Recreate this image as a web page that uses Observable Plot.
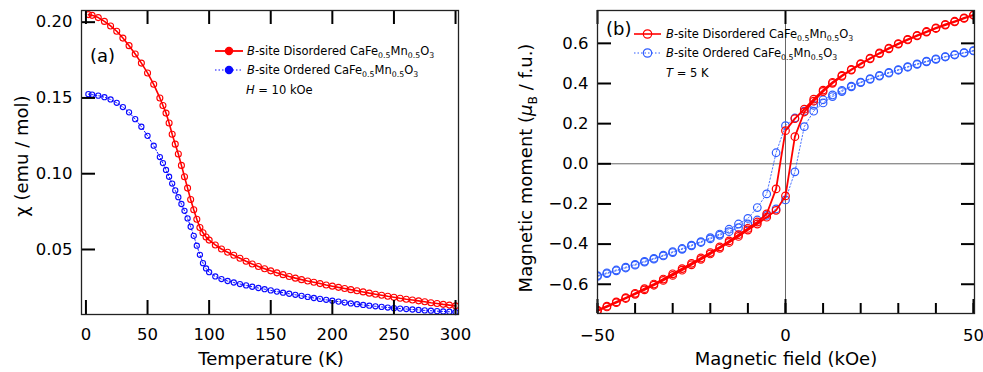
<!DOCTYPE html>
<html><head><meta charset="utf-8">
<script src="https://cdn.jsdelivr.net/npm/d3@7"></script>
<script src="https://cdn.jsdelivr.net/npm/@observablehq/plot@0.6"></script>
<style>
html,body{margin:0;padding:0;background:#fff;}
#wrap{display:flex;width:983px;height:372px;overflow:hidden;}
</style></head><body><div id="wrap"></div>
<script>
// ---------- Panel (a): susceptibility vs temperature ----------
const temperatureK = [2,5,10,15,20,25,30,35,40,45,50,55,60,62.5,65,67.5,70,72.5,75,77.5,80,82.5,85,87.5,90,92.5,95,97.5,100,
  105,110,115,120,125,130,135,140,145,150,155,160,165,170,175,180,185,190,195,200,205,210,215,220,225,230,235,240,245,250,255,260,265,270,275,280,285,290,295,300];
const chiDisordered = [0.2050,0.2045,0.2030,0.2005,0.1975,0.1940,0.1895,0.1845,0.1790,0.1730,0.1665,0.1590,0.1500,0.1450,0.1400,0.1335,0.1260,0.1195,0.1130,0.1055,0.0980,0.0905,0.0830,0.0762,0.0700,0.0645,0.0610,0.0582,0.0562,
  0.0530,0.0503,0.0482,0.0462,0.0442,0.0422,0.0404,0.0388,0.0373,0.0359,0.0346,0.0334,0.0322,0.0311,0.0301,0.0292,0.0284,0.0275,0.0266,0.0258,0.0250,0.0243,0.0235,0.0228,0.0220,0.0212,0.0205,0.0198,0.0191,0.0185,0.0178,0.0172,0.0167,0.0161,0.0155,0.0149,0.0144,0.0138,0.0133,0.0128];
const chiOrdered = [0.1525,0.1522,0.1515,0.1505,0.1490,0.1468,0.1440,0.1405,0.1360,0.1310,0.1250,0.1185,0.1110,0.1070,0.1025,0.0980,0.0935,0.0890,0.0845,0.0800,0.0755,0.0705,0.0650,0.0590,0.0525,0.0465,0.0410,0.0375,0.0350,
  0.0322,0.0305,0.0292,0.0282,0.0272,0.0263,0.0254,0.0246,0.0238,0.0230,0.0222,0.0215,0.0208,0.0201,0.0194,0.0187,0.0180,0.0174,0.0168,0.0162,0.0156,0.0150,0.0144,0.0139,0.0134,0.0129,0.0125,0.0121,0.0117,0.0113,0.0110,0.0107,0.0104,0.0101,0.0098,0.0096,0.0093,0.0091,0.0089,0.0087];
const tempTicks = [0,50,100,150,200,250,300];
const chiTicks = [0.05,0.10,0.15,0.20];

// ---------- Panel (b): magnetization loops at 5 K ----------
const fieldDown = [50,47.5,45,42.5,40,37.5,35,32.5,30,27.5,25,22.5,20,17.5,15,12.5,10,7.5,5,2.5,0,-2.5,-5,-7.5,-10,-12.5,-15,-17.5,-20,-22.5,-25,-27.5,-30,-32.5,-35,-37.5,-40,-42.5,-45,-47.5,-50];
const fieldUp = [-50,-47.5,-45,-42.5,-40,-37.5,-35,-32.5,-30,-27.5,-25,-22.5,-20,-17.5,-15,-12.5,-10,-7.5,-5,-2.5,0,2.5,5,7.5,10,12.5,15,17.5,20,22.5,25,27.5,30,32.5,35,37.5,40,42.5,45,47.5,50];
const momentDisorderedDown = [0.742,0.727,0.710,0.694,0.677,0.659,0.640,0.620,0.599,0.576,0.552,0.526,0.499,0.470,0.440,0.406,0.367,0.322,0.272,0.225,0.165,-0.125,-0.250,-0.290,-0.322,-0.353,-0.384,-0.414,-0.442,-0.469,-0.496,-0.522,-0.548,-0.574,-0.599,-0.622,-0.645,-0.667,-0.688,-0.709,-0.729];
const momentDisorderedUp = [-0.733,-0.713,-0.692,-0.671,-0.650,-0.628,-0.605,-0.581,-0.556,-0.530,-0.503,-0.476,-0.449,-0.421,-0.392,-0.362,-0.330,-0.300,-0.266,-0.232,-0.160,0.135,0.258,0.312,0.360,0.401,0.436,0.467,0.496,0.523,0.549,0.573,0.596,0.617,0.637,0.656,0.674,0.691,0.707,0.724,0.740];
const momentOrderedDown = [0.564,0.554,0.544,0.534,0.523,0.511,0.498,0.484,0.469,0.455,0.440,0.424,0.407,0.387,0.366,0.343,0.319,0.291,0.262,0.228,0.190,0.055,-0.150,-0.218,-0.272,-0.300,-0.326,-0.350,-0.368,-0.388,-0.405,-0.422,-0.438,-0.455,-0.471,-0.486,-0.501,-0.515,-0.529,-0.543,-0.557];
const momentOrderedUp = [-0.561,-0.547,-0.533,-0.519,-0.505,-0.490,-0.475,-0.459,-0.442,-0.426,-0.409,-0.392,-0.374,-0.356,-0.338,-0.318,-0.300,-0.280,-0.257,-0.225,-0.180,-0.040,0.185,0.262,0.303,0.335,0.360,0.383,0.404,0.421,0.437,0.452,0.466,0.481,0.495,0.508,0.520,0.532,0.542,0.552,0.562];
const fieldTicks = [-50,-40,-30,-20,-10,0,10,20,30,40,50];
const fieldLabelTicks = [-50,0,50];
const momentTicks = [-0.6,-0.4,-0.2,0,0.2,0.4,0.6];

const RED = "#ff0000", BLUE_A = "#0a0aff", BLUE_B = "#2f5dff";
const FONT = "DejaVu Sans";
const fmtSigned = d => (d < 0 ? "\u2212" : "") + Math.abs(d);

const disA = temperatureK.map((T, i) => ({T, chi: chiDisordered[i]}));
const ordA = temperatureK.map((T, i) => ({T, chi: chiOrdered[i]}));
const disB = [...fieldDown.map((H, i) => ({H, M: momentDisorderedDown[i]})), ...fieldUp.map((H, i) => ({H, M: momentDisorderedUp[i]}))];
const ordB = [...fieldDown.map((H, i) => ({H, M: momentOrderedDown[i]})), ...fieldUp.map((H, i) => ({H, M: momentOrderedUp[i]}))];

const A = {w: 490, h: 372, ml: 81, mr: 32, mt: 10, mb: 58, xd: [-3.6, 302.4], yd: [0.0071, 0.2077]};
const B = {w: 493, h: 372, ml: 107, mr: 9, mt: 10, mb: 59, xd: [-50, 50.27], yd: [-0.7457, 0.7636]};

// inward tick marks as Plot rule marks; tick length in px converted to data units
function tickMarks(p, axis, values, side, lenPx) {
  const fw = p.w - p.ml - p.mr, fh = p.h - p.mt - p.mb;
  const style = {stroke: "#000", strokeWidth: 2};
  if (axis === "x") {
    const dy = lenPx * (p.yd[1] - p.yd[0]) / fh;
    const y0 = side === "bottom" ? p.yd[0] : p.yd[1];
    const y1 = side === "bottom" ? y0 + dy : y0 - dy;
    return Plot.ruleX(values.map(v => ({v, a: y0, b: y1})), {x: "v", y1: "a", y2: "b", ...style});
  } else {
    const dx = lenPx * (p.xd[1] - p.xd[0]) / fw;
    const x0 = side === "left" ? p.xd[0] : p.xd[1];
    const x1 = side === "left" ? x0 + dx : x0 - dx;
    return Plot.ruleY(values.map(v => ({v, a: x0, b: x1})), {y: "v", x1: "a", x2: "b", ...style});
  }
}

const plotA = Plot.plot({
  width: A.w, height: A.h, marginLeft: A.ml, marginRight: A.mr, marginTop: A.mt, marginBottom: A.mb,
  style: {fontFamily: FONT, fontSize: "16.5px", color: "#000", background: "#fff", overflow: "visible"},
  x: {domain: A.xd, label: null},
  y: {domain: A.yd, label: null},
  marks: [
    Plot.line(ordA, {x: "T", y: "chi", stroke: BLUE_A, strokeWidth: 1, strokeDasharray: "1.5,2"}),
    Plot.dot(ordA, {x: "T", y: "chi", r: 2.6, stroke: BLUE_A, strokeWidth: 1.1, fill: "none"}),
    Plot.line(disA, {x: "T", y: "chi", stroke: RED, strokeWidth: 1.6}),
    Plot.dot(disA, {x: "T", y: "chi", r: 3, stroke: RED, strokeWidth: 1.1, fill: "none"}),
    tickMarks(A, "x", tempTicks, "bottom", 14),
    tickMarks(A, "x", tempTicks, "top", 14),
    tickMarks(A, "y", chiTicks, "left", 14),
    Plot.axisX(tempTicks, {anchor: "bottom", tickSize: 0, tickPadding: 14, tickFormat: d => String(d), label: null}),
    Plot.axisY(chiTicks, {anchor: "left", tickSize: 0, tickPadding: 9, tickFormat: d => d.toFixed(2), label: null}),
    Plot.frame({stroke: "#222", strokeWidth: 1.3})
  ]
});

const plotB = Plot.plot({
  width: B.w, height: B.h, marginLeft: B.ml, marginRight: B.mr, marginTop: B.mt, marginBottom: B.mb,
  style: {fontFamily: FONT, fontSize: "16.5px", color: "#000", background: "#fff", overflow: "visible"},
  x: {domain: B.xd, label: null},
  y: {domain: B.yd, label: null},
  marks: [
    Plot.ruleY([0], {stroke: "#666", strokeWidth: 1}),
    Plot.ruleX([0], {stroke: "#666", strokeWidth: 1}),
    Plot.line(ordB, {x: "H", y: "M", stroke: BLUE_B, strokeWidth: 1, strokeDasharray: "1.5,2", strokeOpacity: 0.85}),
    Plot.dot(ordB, {x: "H", y: "M", r: 3.8, stroke: BLUE_B, strokeWidth: 1.2, fill: "none", clip: true}),
    Plot.line(disB, {x: "H", y: "M", stroke: RED, strokeWidth: 1.8}),
    Plot.dot(disB, {x: "H", y: "M", r: 3.8, stroke: RED, strokeWidth: 1.2, fill: "none", clip: true}),
    tickMarks(B, "x", fieldTicks, "bottom", 10),
    tickMarks(B, "x", fieldLabelTicks, "bottom", 14),
    tickMarks(B, "x", fieldLabelTicks, "top", 14),
    tickMarks(B, "y", momentTicks, "left", 14),
    tickMarks(B, "y", momentTicks, "right", 13),
    Plot.axisX(fieldLabelTicks, {anchor: "bottom", tickSize: 0, tickPadding: 16, tickFormat: fmtSigned, label: null}),
    Plot.axisY(momentTicks, {anchor: "left", tickSize: 0, tickPadding: 9, tickFormat: d => (d < 0 ? "\u2212" : "") + Math.abs(d).toFixed(1), label: null}),
    Plot.frame({stroke: "#222", strokeWidth: 1.3})
  ]
});

const wrap = document.getElementById("wrap");
wrap.appendChild(plotA);
wrap.appendChild(plotB);

// ---------- annotations ----------
function richText(svg, x, y, parts, size, opts = {}) {
  const t = d3.select(svg).append("text")
    .attr("font-family", FONT).attr("font-size", size).attr("fill", "#000");
  if (opts.rotate) {
    t.attr("transform", `translate(${x},${y}) rotate(-90)`).attr("text-anchor", "middle");
  } else {
    t.attr("x", x).attr("y", y).attr("text-anchor", opts.anchor || "start");
  }
  let shift = 0;
  for (const [s, kind] of parts) {
    const sp = t.append("tspan").text(s);
    if (kind === "i") sp.attr("font-style", "italic");
    if (kind === "sub") {
      sp.attr("font-size", size * 0.68);
      if (!shift) { sp.attr("dy", size * 0.28); shift = size * 0.28; }
    } else if (shift) { sp.attr("dy", -shift); shift = 0; }
  }
  return t;
}
function legendSample(svg, x1, x2, y, color, dashed, filled, r, width) {
  const g = d3.select(svg).append("g");
  g.append("line").attr("x1", x1).attr("x2", x2).attr("y1", y).attr("y2", y)
    .attr("stroke", color).attr("stroke-width", width).attr("stroke-dasharray", dashed ? "1.5,2" : null);
  g.append("circle").attr("cx", (x1 + x2) / 2).attr("cy", y).attr("r", r)
    .attr("fill", filled ? color : "none").attr("stroke", color).attr("stroke-width", 1.2);
}
const compound = (site) => [["B", "i"], ["-site " + site + " CaFe"], ["0.5", "sub"], ["Mn"], ["0.5", "sub"], ["O"], ["3", "sub"]];

// Panel (a)
richText(plotA, 90, 62, [["(a)"]], 18);
legendSample(plotA, 215, 243, 51, RED, false, true, 3.6, 1.8);
legendSample(plotA, 215, 243, 70, BLUE_A, true, true, 3.6, 1.2);
richText(plotA, 247, 55, compound("Disordered"), 11.5);
richText(plotA, 247, 74, compound("Ordered"), 11.5);
richText(plotA, 246, 94, [["H", "i"], [" = 10 kOe"]], 11.5);
richText(plotA, 271, 365, [["Temperature (K)"]], 18, {anchor: "middle"});
richText(plotA, 28, 156, [["\u03c7 (emu / mol)"]], 18, {rotate: true});

// Panel (b)
richText(plotB, 116, 35, [["(b)"]], 18);
legendSample(plotB, 144, 171, 34, RED, false, false, 4.2, 1.6);
legendSample(plotB, 144, 171, 53, BLUE_B, true, false, 4.2, 1);
richText(plotB, 176, 38, compound("Disordered"), 11.5);
richText(plotB, 176, 57, compound("Ordered"), 11.5);
richText(plotB, 176, 77, [["T", "i"], [" = 5 K"]], 11.5);
richText(plotB, 296, 365, [["Magnetic field (kOe)"]], 18, {anchor: "middle"});
richText(plotB, 42, 168, [["Magnetic moment ("], ["\u03bc", "i"], ["B", "sub"], [" / f.u.)"]], 18, {rotate: true});
</script>
</body></html>
